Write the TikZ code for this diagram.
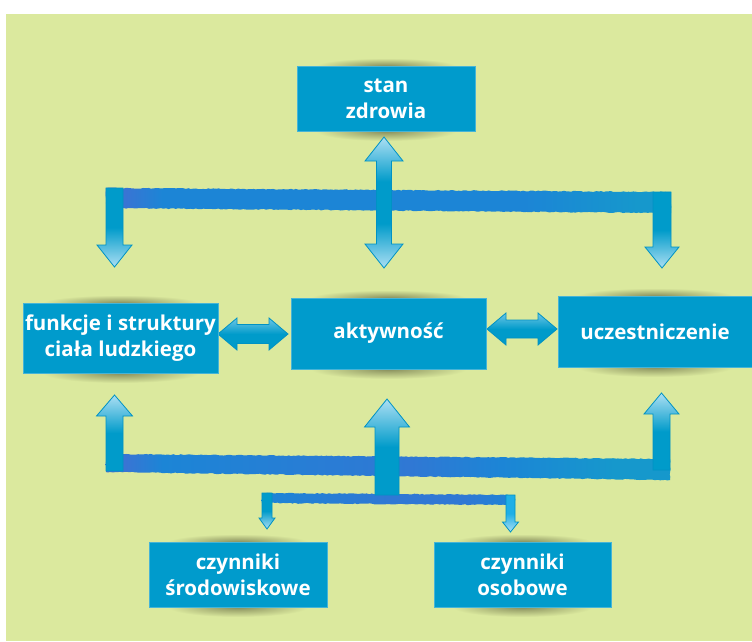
\documentclass[tikz,border=0pt]{standalone}
\usepackage{fontspec}
\setmainfont{Open Sans}
\usetikzlibrary{decorations.pathmorphing}
\definecolor{bg}{RGB}{219,233,158}
\definecolor{boxc}{RGB}{0,155,204}
\definecolor{boxline}{RGB}{70,180,215}
\definecolor{adark}{RGB}{0,155,202}
\definecolor{alight}{RGB}{172,223,243}
\definecolor{tubelight}{RGB}{110,198,230}
\definecolor{smdark}{RGB}{30,175,230}
\definecolor{aline}{RGB}{0,146,196}
\definecolor{barL}{RGB}{72,108,210}
\definecolor{barM}{RGB}{28,133,214}
\definecolor{barP}{RGB}{48,120,212}
\definecolor{barR}{RGB}{22,152,204}
\definecolor{shadowc}{RGB}{135,142,92}
\pgfdeclareverticalshading{arrdn}{100bp}{color(0bp)=(alight); color(25bp)=(alight); color(50bp)=(adark); color(100bp)=(adark)}
\pgfdeclareverticalshading{arrsm}{100bp}{color(0bp)=(alight); color(25bp)=(alight); color(50bp)=(smdark); color(100bp)=(smdark)}
\pgfdeclareverticalshading{arrdbl}{100bp}{color(0bp)=(alight); color(25bp)=(alight); color(42bp)=(adark); color(58bp)=(adark); color(75bp)=(alight); color(100bp)=(alight)}
\pgfdeclareverticalshading{tube}{100bp}{color(0bp)=(adark); color(25bp)=(adark); color(50bp)=(adark); color(75bp)=(tubelight); color(100bp)=(tubelight)}
\pgfdeclarehorizontalshading{barTop}{100bp}{color(0bp)=(barL); color(25bp)=(barL); color(30bp)=(barM); color(62bp)=(barM); color(72bp)=(barR); color(100bp)=(barR)}
\pgfdeclarehorizontalshading{barBot}{100bp}{color(0bp)=(barL); color(25bp)=(barL); color(30bp)=(barM); color(52bp)=(barP); color(60bp)=(barM); color(70bp)=(barR); color(100bp)=(barR)}
\pgfdeclarehorizontalshading{barThin}{100bp}{color(0bp)=(barM); color(25bp)=(barM); color(50bp)=(barP); color(65bp)=(barP); color(75bp)=(barM); color(100bp)=(barM)}
\tikzset{
  box/.style={rectangle, fill=boxc, draw=boxline, line width=0.5pt, text=white,
    align=center, font=\fontsize{20.5}{26}\selectfont\bfseries, inner sep=0pt},
  fat/.style={draw=aline, line width=0.8pt, line join=miter},
  brush/.style={decorate, decoration={random steps, segment length=2.5pt, amplitude=0.5pt}},
  softshadow/.style={inner color=shadowc, outer color=bg}
}
% vertical single arrow: x, ybase, yheadbase, ytip, shaft half, head half, options
\newcommand{\vfat}[7]{%
  \shadedraw[fat,#7] ({#1-#5},#2) -- ({#1-#5},#3) -- ({#1-#6},#3) -- (#1,#4) -- ({#1+#6},#3) -- ({#1+#5},#3) -- ({#1+#5},#2) -- cycle;}
% vertical double arrow: x, ytop, ybottom, head length, shaft half, head half
\newcommand{\vdbl}[6]{%
  \shadedraw[fat,shading=arrdbl] (#1,#2) -- ({#1+#6},{#2+#4}) -- ({#1+#5},{#2+#4}) -- ({#1+#5},{#3-#4}) -- ({#1+#6},{#3-#4}) -- (#1,#3) -- ({#1-#6},{#3-#4}) -- ({#1-#5},{#3-#4}) -- ({#1-#5},{#2+#4}) -- ({#1-#6},{#2+#4}) -- cycle;}
% horizontal double arrow: y, xleft, xright, head length, shaft half, head half
\newcommand{\hdbl}[6]{%
  \shadedraw[fat,shading=tube] (#2,#1) -- ({#2+#4},{#1-#6}) -- ({#2+#4},{#1-#5}) -- ({#3-#4},{#1-#5}) -- ({#3-#4},{#1-#6}) -- (#3,#1) -- ({#3-#4},{#1+#6}) -- ({#3-#4},{#1+#5}) -- ({#2+#4},{#1+#5}) -- ({#2+#4},{#1+#6}) -- cycle;}
% soft shadow pair for a box: cx, ytop, ybottom, x radius
\newcommand{\boxshadow}[4]{%
  \shade[softshadow] (#1,#2) ellipse [x radius=#4, y radius=8];
  \shade[softshadow] (#1,#3) ellipse [x radius=#4, y radius=10];}

\begin{document}
\begin{tikzpicture}[x=1pt,y=-1pt]
\useasboundingbox (0,0) rectangle (752,641);
\fill[white] (0,0) rectangle (752,641);
\fill[bg] (6,14) rectangle (752,641);

% shadows
\boxshadow{386}{66}{131}{70}
\boxshadow{120.5}{303}{373}{78}
\boxshadow{388.5}{298}{369}{78}
\boxshadow{655}{296}{367}{78}
\boxshadow{238}{542}{607}{70}
\boxshadow{522.5}{542}{607}{70}

% brush bars
\shade[shading=barTop, brush] (106,188) -- (671,192) -- (671,213) -- (106,208) -- cycle;
\shade[shading=barBot, brush] (106,454) -- (670,459) -- (670,480) -- (106,472) -- cycle;
\shade[shading=barThin, brush] (262,493) -- (515,495) -- (515,505) -- (262,503) -- cycle;

% arrows
\vfat{114.5}{188}{245}{267}{8.5}{17.5}{shading=arrdn}
\vfat{662}{192}{247}{268}{9}{17}{shading=arrdn}
\vdbl{384}{137}{268}{24}{7.5}{19}
\vfat{114.5}{471}{416}{395}{8.5}{18}{shading=arrdn, shading angle=180}
\vfat{387}{495}{427}{399}{12}{22.5}{shading=arrdn, shading angle=180}
\vfat{661.5}{470}{414}{393}{8.5}{17.5}{shading=arrdn, shading angle=180}
\vfat{267}{493}{518}{529}{5}{8}{shading=arrdn}
\vfat{510.5}{495}{522}{532}{4.5}{8}{shading=arrsm}
\hdbl{334}{218}{288}{19}{9.5}{16}
\hdbl{329}{487}{557}{19}{9}{16}

% boxes
\node[box, minimum width=178pt, minimum height=65pt] (stan) at (386,98.5) {stan\\zdrowia};
\node[box, minimum width=195pt, minimum height=70pt] (funk) at (120.5,338) {funkcje i struktury\\ciała ludzkiego};
\node[box, minimum width=195pt, minimum height=71pt] (akt) at (388.5,333.5) {aktywność};
\node[box, minimum width=194pt, minimum height=71pt] (ucz) at (655,331.5) {uczestniczenie};
\node[box, minimum width=178pt, minimum height=65pt] (czs) at (238,574.5) {czynniki\\środowiskowe};
\node[box, minimum width=177pt, minimum height=65pt] (czo) at (522.5,574.5) {czynniki\\osobowe};
\end{tikzpicture}
\end{document}
